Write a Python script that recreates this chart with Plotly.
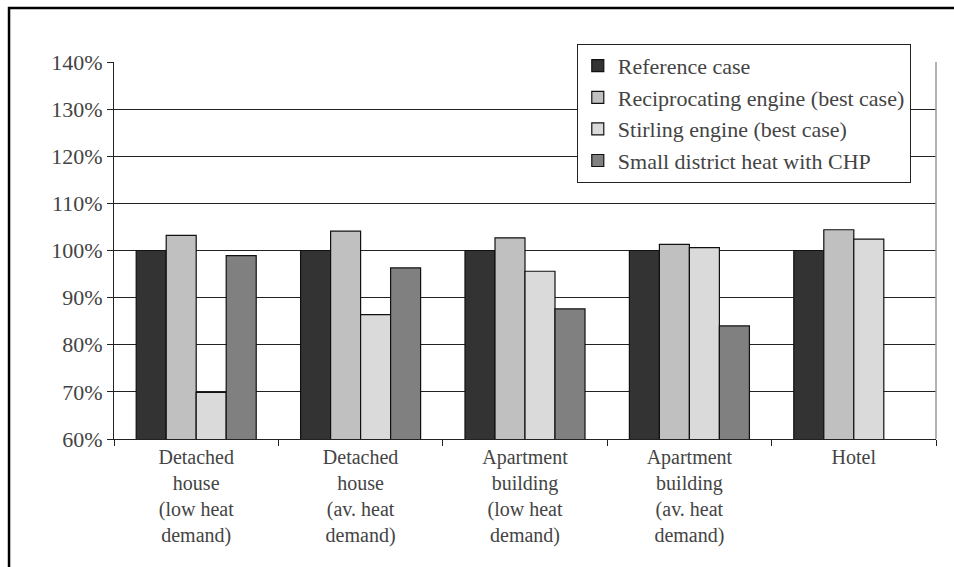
import plotly.graph_objects as go

categories = [
    "Detached<br>house<br>(low heat<br>demand)",
    "Detached<br>house<br>(av. heat<br>demand)",
    "Apartment<br>building<br>(low heat<br>demand)",
    "Apartment<br>building<br>(av. heat<br>demand)",
    "Hotel",
]

reference_case = [1.000, 1.000, 1.000, 1.000, 1.000]
reciprocating_engine = [1.032, 1.041, 1.027, 1.013, 1.044]
stirling_engine = [0.699, 0.864, 0.956, 1.006, 1.024]
district_heat_chp = [0.989, 0.963, 0.876, 0.840, None]

series_names = [
    "Reference case",
    "Reciprocating engine (best case)",
    "Stirling engine (best case)",
    "Small district heat with CHP",
]
series_values = [reference_case, reciprocating_engine, stirling_engine, district_heat_chp]
series_colors = ["#333333", "#c0c0c0", "#dadada", "#808080"]

FONT = "Liberation Serif"

fig = go.Figure([
    go.Bar(name=name, x=categories, y=vals,
           marker=dict(color=col, line=dict(color="#111111", width=1.2)))
    for name, vals, col in zip(series_names, series_values, series_colors)
])

fig.update_layout(width=954, height=567, font=dict(family=FONT, size=20),
                  showlegend=True, template="none")

fig.update_layout(
    margin=dict(l=114, r=18, t=62, b=128),
    barmode="group", bargap=0.27, bargroupgap=0,
    legend=dict(
        x=0.563, y=1.048, xanchor="left", yanchor="top",
        bgcolor="white", bordercolor="#222222", borderwidth=1,
        font=dict(family=FONT, size=22),
    ),
)

fig.update_xaxes(
    showline=True, linecolor="#222222", linewidth=1,
    ticks="outside", ticklen=6, tickcolor="#222222",
    tickson="boundaries", showgrid=False,
    tickfont=dict(family=FONT, size=20),
)
fig.update_yaxes(
    range=[0.6, 1.4], dtick=0.1, tickformat=".0%",
    showline=True, linecolor="#222222", linewidth=1,
    ticks="outside", ticklen=6, tickcolor="#222222",
    showgrid=True, gridcolor="#222222", gridwidth=1,
    zeroline=False,
    tickfont=dict(family=FONT, size=22),
)

# right edge of the plotting area
fig.add_shape(type="line", xref="paper", yref="paper", x0=1, x1=1, y0=0, y1=1,
              line=dict(color="#999999", width=1.5))
# frame around the whole chart (runs off the right and bottom)
fig.add_shape(type="rect", xref="paper", yref="paper",
              x0=-0.1277, x1=1.04, y0=1.1432, y1=-0.38,
              line=dict(color="black", width=2.5), layer="above")

fig.write_html("out.html")
